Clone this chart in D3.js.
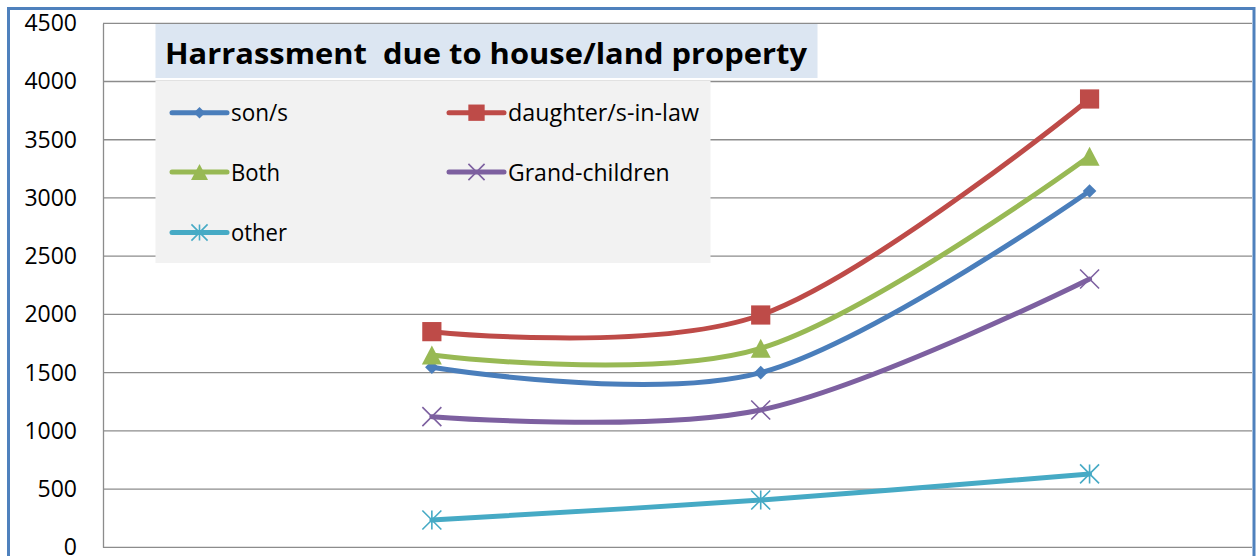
<!DOCTYPE html>
<html>
<head>
<meta charset="utf-8">
<script src="https://cdn.jsdelivr.net/npm/d3@7"></script>
<style>
  html, body { margin: 0; padding: 0; background: #ffffff; }
  svg { display: block; }
  text { white-space: pre; }
</style>
</head>
<body>
<svg id="chart" width="1256" height="556"></svg>
<script>
// ---- data ----
const categories = ["", "1", "2", "3"];
const catIndex = [1, 2, 3];
const sons = [1546, 1500, 3060];
const daughtersInLaw = [1852, 1995, 3850];
const both = [1651, 1709, 3358];
const grandChildren = [1122, 1179, 2304];
const other = [234, 406, 630];
const yTicks = [0, 500, 1000, 1500, 2000, 2500, 3000, 3500, 4000, 4500];
const seriesNames = ["son/s", "daughter/s-in-law", "Both", "Grand-children", "other"];
const titleText = "Harrassment  due to house/land property";

const series = [
  { name: seriesNames[0], values: sons, color: "#4a7ebb", marker: "diamond" },
  { name: seriesNames[1], values: daughtersInLaw, color: "#be4b48", marker: "square" },
  { name: seriesNames[2], values: both, color: "#98b954", marker: "triangle" },
  { name: seriesNames[3], values: grandChildren, color: "#7d60a0", marker: "x" },
  { name: seriesNames[4], values: other, color: "#46aac5", marker: "star" }
];

const svg = d3.select("#chart");
const FONT = "'Open Sans', 'Noto Sans', 'Liberation Sans', sans-serif";

const plotLeft = 103, plotRight = 1253, plotTop = 23.3, plotBottom = 547.3;
const x = d3.scaleLinear().domain([0, 3.5]).range([plotLeft, plotRight + 1]);
const y = d3.scaleLinear().domain([0, 4500]).range([plotBottom, plotTop]);

// gridlines
svg.append("g")
  .selectAll("line").data(yTicks).join("line")
  .attr("x1", plotLeft).attr("x2", 1252)
  .attr("y1", d => y(d)).attr("y2", d => y(d))
  .attr("stroke", "#8c8c8c").attr("stroke-width", 1.3);

// y axis
const yAxis = d3.axisLeft(y).tickValues(yTicks).tickFormat(d3.format("d")).tickSize(0).tickPadding(26);
const gy = svg.append("g").attr("transform", `translate(${plotLeft},0)`).call(yAxis);
gy.select(".domain").attr("stroke", "#8c8c8c").attr("stroke-width", 1.3);
gy.selectAll("text").attr("font-family", FONT).attr("font-size", 23).attr("fill", "#000");

// line generator
const line = d3.line()
  .x((d, i) => x(catIndex[i]))
  .y(d => y(d))
  .curve(d3.curveCardinal.tension(0));

function drawMarker(g, type, cx, cy, color, s) {
  s = s || 1;
  if (type === "diamond") {
    const r = 6.8 * s;
    g.append("path").attr("d", `M${cx},${cy - r}L${cx + r},${cy}L${cx},${cy + r}L${cx - r},${cy}Z`).attr("fill", color);
  } else if (type === "square") {
    const h = 9.6 * s;
    g.append("rect").attr("x", cx - h).attr("y", cy - h).attr("width", 2 * h).attr("height", 2 * h).attr("fill", color);
  } else if (type === "triangle") {
    const w = 10 * s, h = 9.5 * s;
    g.append("path").attr("d", `M${cx},${cy - h}L${cx + w},${cy + h}L${cx - w},${cy + h}Z`).attr("fill", color);
  } else if (type === "x") {
    const r = 9.5 * s;
    g.append("path").attr("d", `M${cx - r},${cy - r}L${cx + r},${cy + r}M${cx - r},${cy + r}L${cx + r},${cy - r}`)
      .attr("stroke", color).attr("stroke-width", 1.6).attr("fill", "none");
  } else if (type === "star") {
    const r = 9.5 * s;
    g.append("path").attr("d", `M${cx - r},${cy - r}L${cx + r},${cy + r}M${cx - r},${cy + r}L${cx + r},${cy - r}M${cx},${cy - r}L${cx},${cy + r}`)
      .attr("stroke", color).attr("stroke-width", 1.6).attr("fill", "none");
  }
}

const gl = svg.append("g");
series.forEach(s => {
  gl.append("path").datum(s.values).attr("d", line)
    .attr("fill", "none").attr("stroke", s.color).attr("stroke-width", 5)
    .attr("stroke-linecap", "round").attr("stroke-linejoin", "round");
  s.values.forEach((v, i) => drawMarker(gl, s.marker, x(catIndex[i]), y(v), s.color, 1));
});

// title box
svg.append("rect").attr("x", 155.5).attr("y", 24).attr("width", 662).attr("height", 54).attr("fill", "#dce6f2");
const title = svg.append("text").attr("x", 165).attr("y", 64)
  .attr("font-family", FONT).attr("font-weight", "bold").attr("font-size", 29).attr("fill", "#000")
  .attr("xml:space", "preserve")
  .text(titleText);
function fit(t, w) {
  const n = t.node().getComputedTextLength();
  if (n > 0 && Math.abs(n - w) > 1) t.attr("textLength", w).attr("lengthAdjust", "spacingAndGlyphs");
}
fit(title, 642);

// legend box
svg.append("rect").attr("x", 155.5).attr("y", 81).attr("width", 555).attr("height", 182).attr("fill", "#f2f2f2");
const legendPos = [
  { x: 172, y: 112.7, w: 57 },
  { x: 449, y: 112.7, w: 191 },
  { x: 172, y: 172, w: 49 },
  { x: 449, y: 172, w: 161 },
  { x: 172, y: 232.5, w: 56 }
];
series.forEach((s, i) => {
  const p = legendPos[i];
  const g = svg.append("g");
  g.append("line").attr("x1", p.x).attr("x2", p.x + 55).attr("y1", p.y).attr("y2", p.y)
    .attr("stroke", s.color).attr("stroke-width", 5).attr("stroke-linecap", "round");
  drawMarker(g, s.marker, p.x + 27.5, p.y, s.color, 0.85);
  const t = g.append("text").attr("x", p.x + 59).attr("y", p.y + 8.5)
    .attr("font-family", FONT).attr("font-size", 23).attr("fill", "#000").text(s.name);
  fit(t, p.w);
});

// outer border
svg.append("rect").attr("x", 8.5).attr("y", 8.5).attr("width", 1245.5).attr("height", 600)
  .attr("fill", "none").attr("stroke", "#4f81bd").attr("stroke-width", 3);
</script>
</body>
</html>
